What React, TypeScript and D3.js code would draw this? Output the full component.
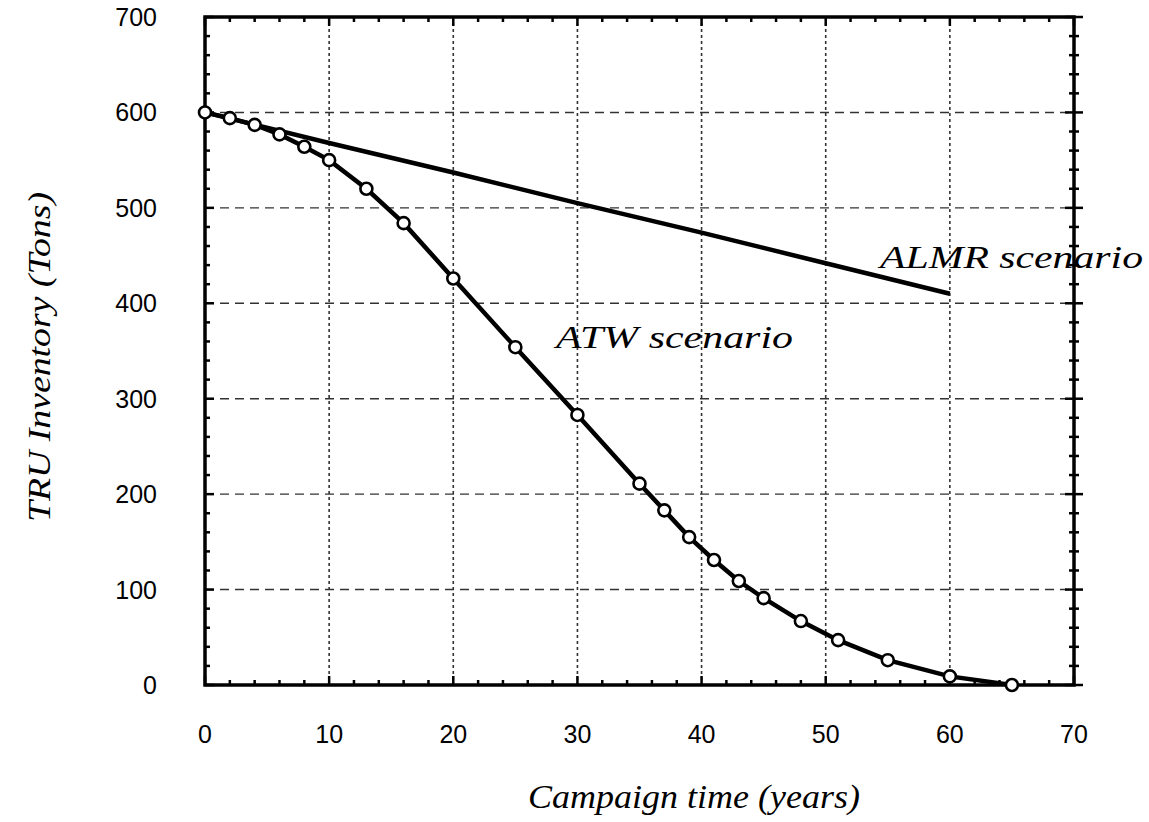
import React from "react";
import * as d3 from "d3";

const xTicks = [0, 10, 20, 30, 40, 50, 60, 70];
const yTicks = [0, 100, 200, 300, 400, 500, 600, 700];
const atwX = [0, 2, 4, 6, 8, 10, 13, 16, 20, 25, 30, 35, 37, 39, 41, 43, 45, 48, 51, 55, 60, 65];
const atwY = [600, 594, 587, 577, 564, 550, 520, 484, 426, 354, 283, 211, 183, 155, 131, 109, 91, 67, 47, 26, 9, 0];
const almrX = [0, 10, 20, 30, 40, 50, 60];
const almrY = [600, 568, 537, 505, 474, 442, 410];
const xTitle = "Campaign time (years)";
const yTitle = "TRU Inventory (Tons)";
const atwLabel = "ATW scenario";
const almrLabel = "ALMR scenario";

export default function App() {
  const W = 1149, H = 822;
  const L = 205, R = 1074, T = 17, B = 685;
  const x = d3.scaleLinear().domain([0, 70]).range([L, R]);
  const y = d3.scaleLinear().domain([0, 700]).range([B, T]);
  const line = d3.line<[number, number]>().x(d => x(d[0])).y(d => y(d[1]));
  const atw: [number, number][] = atwX.map((v, i) => [v, atwY[i]]);
  const almr: [number, number][] = almrX.map((v, i) => [v, almrY[i]]);
  const xMinor = d3.range(0, 70.01, 2);
  const yMinor = d3.range(0, 700.01, 20);
  const serif = "'Liberation Serif', 'Times New Roman', serif";
  const sans = "'Liberation Sans', Arial, sans-serif";
  return (
    <svg width={W} height={H} style={{ position: "absolute", left: 0, top: 0, background: "#fff" }}>
      {xTicks.slice(1, -1).map(t => (
        <line key={"gx" + t} x1={x(t)} x2={x(t)} y1={T} y2={B} stroke="#333" strokeWidth={1.6} strokeDasharray="3,3" />
      ))}
      {yTicks.slice(1, -1).map(t => (
        <line key={"gy" + t} x1={L} x2={R} y1={y(t)} y2={y(t)} stroke="#333" strokeWidth={1.4} strokeDasharray="9,6" />
      ))}
      {xMinor.map(t => {
        const major = t % 10 === 0;
        const len = major ? 9 : 5;
        return (
          <g key={"tx" + t}>
            <line x1={x(t)} x2={x(t)} y1={B} y2={B - len} stroke="#000" strokeWidth={2.5} />
            <line x1={x(t)} x2={x(t)} y1={T} y2={T + len} stroke="#000" strokeWidth={2.5} />
          </g>
        );
      })}
      {yMinor.map(t => {
        const major = t % 100 === 0;
        const len = major ? 9 : 5;
        return (
          <g key={"ty" + t}>
            <line x1={L} x2={L + len} y1={y(t)} y2={y(t)} stroke="#000" strokeWidth={2.5} />
            <line x1={R - len} x2={R + len} y1={y(t)} y2={y(t)} stroke="#000" strokeWidth={2.5} />
          </g>
        );
      })}
      <rect x={L} y={T} width={R - L} height={B - T} fill="none" stroke="#000" strokeWidth={3.5} />
      {xTicks.map(t => (
        <text key={"lx" + t} x={x(t)} y={743} textAnchor="middle" fontFamily={sans} fontSize={25} fill="#000">{t}</text>
      ))}
      {yTicks.map(t => (
        <text key={"ly" + t} x={157} y={y(t) + 9} textAnchor="end" fontFamily={sans} fontSize={25} fill="#000">{t}</text>
      ))}
      <path d={line(almr) || ""} fill="none" stroke="#000" strokeWidth={4.5} />
      <path d={line(atw) || ""} fill="none" stroke="#000" strokeWidth={4.5} />
      {atw.map((d, i) => (
        <circle key={"m" + i} cx={x(d[0])} cy={y(d[1])} r={6} fill="#fff" stroke="#000" strokeWidth={2.6} />
      ))}
      <text x={556} y={348} fontFamily={serif} fontStyle="italic" fontSize={31} fill="#000" textLength={237} lengthAdjust="spacingAndGlyphs">{atwLabel}</text>
      <text x={880} y={268} fontFamily={serif} fontStyle="italic" fontSize={32} fill="#000" textLength={263} lengthAdjust="spacingAndGlyphs">{almrLabel}</text>
      <text x={694} y={808} textAnchor="middle" fontFamily={serif} fontStyle="italic" fontSize={34} fill="#000" textLength={332} lengthAdjust="spacingAndGlyphs">{xTitle}</text>
      <text transform={`translate(50, 357) rotate(-90)`} textAnchor="middle" fontFamily={serif} fontStyle="italic" fontSize={32} fill="#000" textLength={330} lengthAdjust="spacingAndGlyphs">{yTitle}</text>
    </svg>
  );
}
